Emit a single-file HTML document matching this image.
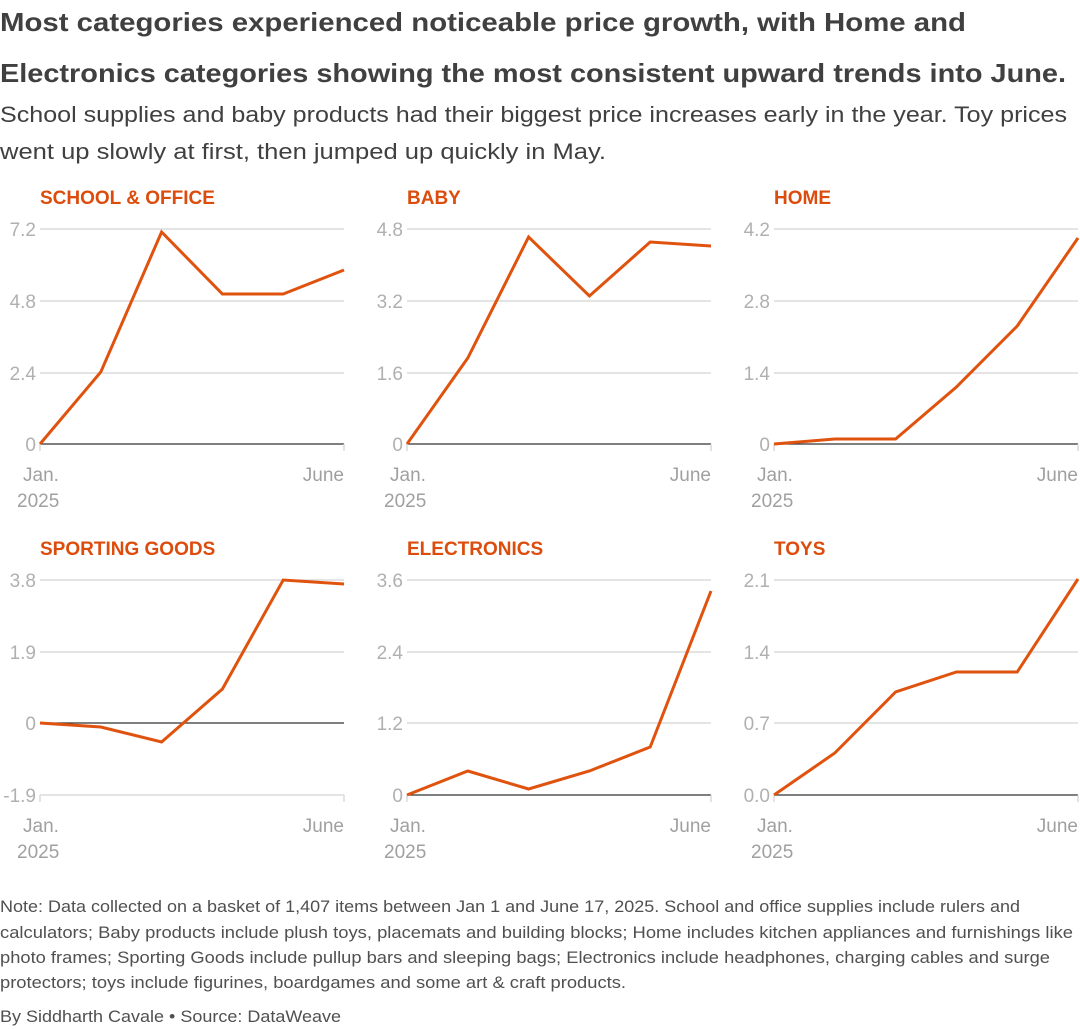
<!DOCTYPE html>
<html><head><meta charset="utf-8"><style>
body{margin:0;background:#fff;}
svg{display:block;font-family:"Liberation Sans",sans-serif;}
.t{font-weight:bold;font-size:26px;fill:#404040;}
.s{font-size:22px;fill:#404040;}
.h{font-weight:bold;font-size:19px;fill:#dc4c0c;}
.y{font-size:19px;fill:#b0b0b0;text-anchor:end;}
.x{font-size:19px;fill:#a0a0a0;}
.n{font-size:16.5px;fill:#505050;}
.g{stroke:#d4d4d4;stroke-width:1.3;}
.z{stroke:#333;stroke-width:1.3;}
.l{fill:none;stroke:#e0530f;stroke-width:3;stroke-linejoin:miter;}
</style></head><body>
<svg width="1080" height="1029" viewBox="0 0 1080 1029">
<text class="t" x="0" y="31" textLength="966" lengthAdjust="spacingAndGlyphs">Most categories experienced noticeable price growth, with Home and</text>
<text class="t" x="0" y="82" textLength="1066" lengthAdjust="spacingAndGlyphs">Electronics categories showing the most consistent upward trends into June.</text>
<text class="s" x="0" y="122" textLength="1067" lengthAdjust="spacingAndGlyphs">School supplies and baby products had their biggest price increases early in the year. Toy prices</text>
<text class="s" x="0" y="159" textLength="606" lengthAdjust="spacingAndGlyphs">went up slowly at first, then jumped up quickly in May.</text>

<text class="h" x="40" y="204">SCHOOL &amp; OFFICE</text>
<line class="g" x1="40" x2="344" y1="229" y2="229"/><line class="g" x1="40" x2="344" y1="301" y2="301"/><line class="g" x1="40" x2="344" y1="373" y2="373"/>
<line class="z" x1="40" x2="344" y1="444" y2="444"/>
<line class="g" x1="40" x2="40" y1="444" y2="451"/><line class="g" x1="344" x2="344" y1="444" y2="451"/>
<text class="y" x="36" y="236">7.2</text><text class="y" x="36" y="308">4.8</text><text class="y" x="36" y="380">2.4</text><text class="y" x="36" y="451">0</text>
<text class="x" x="23" y="481">Jan.</text><text class="x" x="17" y="507">2025</text><text class="x" x="344" y="481" text-anchor="end">June</text>
<polyline class="l" points="40,444 100.8,372 161.6,232 222.4,294 283.2,294 344,270"/>

<text class="h" x="407" y="204">BABY</text>
<line class="g" x1="407" x2="711" y1="229" y2="229"/><line class="g" x1="407" x2="711" y1="301" y2="301"/><line class="g" x1="407" x2="711" y1="373" y2="373"/>
<line class="z" x1="407" x2="711" y1="444" y2="444"/>
<line class="g" x1="407" x2="407" y1="444" y2="451"/><line class="g" x1="711" x2="711" y1="444" y2="451"/>
<text class="y" x="403" y="236">4.8</text><text class="y" x="403" y="308">3.2</text><text class="y" x="403" y="380">1.6</text><text class="y" x="403" y="451">0</text>
<text class="x" x="390" y="481">Jan.</text><text class="x" x="384" y="507">2025</text><text class="x" x="711" y="481" text-anchor="end">June</text>
<polyline class="l" points="407,444 467.8,358 528.6,237 589.4,296 650.2,242 711,246"/>

<text class="h" x="774" y="204">HOME</text>
<line class="g" x1="774" x2="1078" y1="229" y2="229"/><line class="g" x1="774" x2="1078" y1="301" y2="301"/><line class="g" x1="774" x2="1078" y1="373" y2="373"/>
<line class="z" x1="774" x2="1078" y1="444" y2="444"/>
<line class="g" x1="774" x2="774" y1="444" y2="451"/><line class="g" x1="1078" x2="1078" y1="444" y2="451"/>
<text class="y" x="770" y="236">4.2</text><text class="y" x="770" y="308">2.8</text><text class="y" x="770" y="380">1.4</text><text class="y" x="770" y="451">0</text>
<text class="x" x="757" y="481">Jan.</text><text class="x" x="751" y="507">2025</text><text class="x" x="1078" y="481" text-anchor="end">June</text>
<polyline class="l" points="774,444 834.8,439 895.6,439 956.4,387 1017.2,326 1078,238"/>

<text class="h" x="40" y="555">SPORTING GOODS</text>
<line class="g" x1="40" x2="344" y1="580" y2="580"/><line class="g" x1="40" x2="344" y1="652" y2="652"/>
<line class="z" x1="40" x2="344" y1="723" y2="723"/>
<line class="g" x1="40" x2="344" y1="795" y2="795"/>
<line class="g" x1="40" x2="40" y1="795" y2="802"/><line class="g" x1="344" x2="344" y1="795" y2="802"/>
<text class="y" x="36" y="587">3.8</text><text class="y" x="36" y="659">1.9</text><text class="y" x="36" y="730">0</text><text class="y" x="36" y="802">-1.9</text>
<text class="x" x="23" y="832">Jan.</text><text class="x" x="17" y="858">2025</text><text class="x" x="344" y="832" text-anchor="end">June</text>
<polyline class="l" points="40,723 100.8,727 161.6,742 222.4,689 283.2,580 344,584"/>

<text class="h" x="407" y="555">ELECTRONICS</text>
<line class="g" x1="407" x2="711" y1="580" y2="580"/><line class="g" x1="407" x2="711" y1="652" y2="652"/><line class="g" x1="407" x2="711" y1="723" y2="723"/>
<line class="z" x1="407" x2="711" y1="795" y2="795"/>
<line class="g" x1="407" x2="407" y1="795" y2="802"/><line class="g" x1="711" x2="711" y1="795" y2="802"/>
<text class="y" x="403" y="587">3.6</text><text class="y" x="403" y="659">2.4</text><text class="y" x="403" y="730">1.2</text><text class="y" x="403" y="802">0</text>
<text class="x" x="390" y="832">Jan.</text><text class="x" x="384" y="858">2025</text><text class="x" x="711" y="832" text-anchor="end">June</text>
<polyline class="l" points="407,795 467.8,771 528.6,789 589.4,771 650.2,747 711,591"/>

<text class="h" x="774" y="555">TOYS</text>
<line class="g" x1="774" x2="1078" y1="580" y2="580"/><line class="g" x1="774" x2="1078" y1="652" y2="652"/><line class="g" x1="774" x2="1078" y1="723" y2="723"/>
<line class="z" x1="774" x2="1078" y1="795" y2="795"/>
<line class="g" x1="774" x2="774" y1="795" y2="802"/><line class="g" x1="1078" x2="1078" y1="795" y2="802"/>
<text class="y" x="770" y="587">2.1</text><text class="y" x="770" y="659">1.4</text><text class="y" x="770" y="730">0.7</text><text class="y" x="770" y="802">0.0</text>
<text class="x" x="757" y="832">Jan.</text><text class="x" x="751" y="858">2025</text><text class="x" x="1078" y="832" text-anchor="end">June</text>
<polyline class="l" points="774,795 834.8,753 895.6,692 956.4,672 1017.2,672 1078,579"/>

<text class="n" x="0" y="912" textLength="1020" lengthAdjust="spacingAndGlyphs">Note: Data collected on a basket of 1,407 items between Jan 1 and June 17, 2025. School and office supplies include rulers and</text>
<text class="n" x="0" y="938" textLength="1073" lengthAdjust="spacingAndGlyphs">calculators; Baby products include plush toys, placemats and building blocks; Home includes kitchen appliances and furnishings like</text>
<text class="n" x="0" y="963" textLength="1050" lengthAdjust="spacingAndGlyphs">photo frames; Sporting Goods include pullup bars and sleeping bags; Electronics include headphones, charging cables and surge</text>
<text class="n" x="0" y="988" textLength="626" lengthAdjust="spacingAndGlyphs">protectors; toys include figurines, boardgames and some art &amp; craft products.</text>
<text class="n" x="0" y="1022" textLength="341" lengthAdjust="spacingAndGlyphs">By Siddharth Cavale • Source: DataWeave</text>
</svg>
</body></html>
